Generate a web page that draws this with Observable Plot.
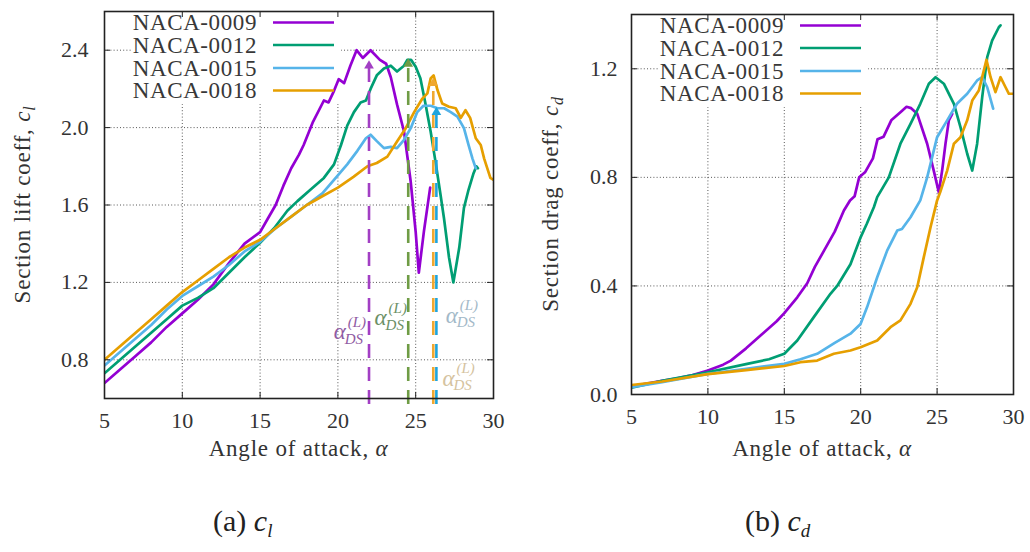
<!DOCTYPE html>
<html><head><meta charset="utf-8">
<script src="https://cdn.jsdelivr.net/npm/d3@7"></script>
<script src="https://cdn.jsdelivr.net/npm/@observablehq/plot@0.6"></script>
<style>
body{margin:0;background:#fff;}
#wrap{position:relative;width:1030px;height:552px;overflow:hidden;font-family:"Liberation Serif","Times New Roman","DejaVu Serif","Noto Serif",Times,serif;background:#fff;}
.panel{position:absolute;top:0;}
.cap{position:absolute;top:506px;font-size:30px;line-height:30px;color:#222;white-space:nowrap;}
.cap .s{font-size:19px;font-style:italic;position:relative;top:6px;}
</style></head><body>
<div id="wrap">
<div id="pl" class="panel" style="left:0"></div>
<div id="pr" class="panel" style="left:515px"></div>
<div class="cap" style="left:213px">(a) <i>c</i><span class="s">l</span></div>
<div class="cap" style="left:745px">(b) <i>c</i><span class="s">d</span></div>
</div>
<script>
// ---------- data ----------
const alphaTicks = [5, 10, 15, 20, 25, 30];
const alphaGrid = [10, 15, 20, 25];
const clTicks = [0.8, 1.2, 1.6, 2.0, 2.4];
const cdTicks = [0.0, 0.4, 0.8, 1.2];
const cdGrid = [0.4, 0.8, 1.2];
const alphaDomain = [5, 30];
const clDomain = [0.6, 2.6];
const cdDomain = [0, 1.4];

const seriesNames = ["NACA-0009", "NACA-0012", "NACA-0015", "NACA-0018"];
const seriesColors = ["#9400d3", "#009e73", "#56b4e9", "#e69f00"];

// lift coefficient
const clAlpha0009 = [5,6,7,8,9,10,11,12,13,14,15,15.5,16,16.5,17,17.5,17.8,18.4,19.1,19.4,19.75,20.05,20.4,20.8,21.2,21.6,22.1,22.7,23.1,23.4,23.8,24.25,24.68,25.0,25.2,25.53,25.93];
const cl0009 = [0.68,0.75,0.82,0.89,0.97,1.04,1.11,1.19,1.30,1.40,1.46,1.53,1.60,1.70,1.79,1.86,1.91,2.03,2.14,2.13,2.19,2.25,2.23,2.32,2.40,2.36,2.40,2.35,2.33,2.26,2.12,1.98,1.72,1.46,1.25,1.465,1.69];
const clAlpha0012 = [5,6,7,8,9,10,11,12,13,14,15,15.9,16.75,17.4,18.25,19.1,19.75,20.2,20.6,21.03,21.46,21.8,22.1,22.5,22.96,23.4,23.8,24.25,24.46,24.7,25.0,25.3,25.6,25.96,26.3,26.6,26.82,27.14,27.42,27.8,28.1,28.4,28.7,28.9,29.0];
const cl0012 = [0.73,0.80,0.87,0.94,1.01,1.08,1.12,1.17,1.25,1.33,1.405,1.48,1.57,1.62,1.68,1.74,1.81,1.91,2.01,2.08,2.13,2.14,2.20,2.27,2.305,2.32,2.29,2.32,2.35,2.35,2.315,2.255,2.135,1.98,1.81,1.65,1.53,1.33,1.20,1.38,1.585,1.68,1.76,1.80,1.79];
const clAlpha0015 = [5,6,7,8,9,10,11,12,13,14,15,16,17,18,19,19.75,20.6,21.25,21.8,22.1,22.5,22.96,23.4,23.8,24.25,24.7,25.1,25.5,25.96,26.4,26.83,27.25,27.68,28.1,28.4,28.65,28.86];
const cl0015 = [0.77,0.84,0.91,0.98,1.06,1.13,1.18,1.23,1.29,1.36,1.41,1.48,1.54,1.60,1.66,1.73,1.81,1.88,1.945,1.963,1.93,1.894,1.90,1.894,1.937,2.0,2.08,2.113,2.113,2.10,2.10,2.08,2.057,1.997,1.91,1.84,1.79];
const clAlpha0018 = [5,6,7,8,9,10,11,12,13,14,15,16,17,18,19,20,21,21.9,22.5,23.18,23.8,24.36,24.9,25.43,25.75,25.96,26.15,26.4,26.7,27.14,27.57,27.9,28.2,28.5,28.86,29.18,29.4,29.8,30];
const cl0018 = [0.80,0.87,0.94,1.01,1.08,1.15,1.21,1.27,1.33,1.38,1.42,1.48,1.54,1.60,1.645,1.69,1.745,1.80,1.817,1.85,1.928,1.997,2.08,2.15,2.177,2.254,2.27,2.194,2.125,2.108,2.10,2.05,2.09,2.05,1.945,1.91,1.84,1.74,1.73];

// drag coefficient
const cdAlpha0009 = [5,6,7,8,9,10,11,11.5,12.5,13.5,14.5,15,15.85,16.5,17,17.6,18.3,18.9,19.3,19.6,19.9,20.3,20.8,21.1,21.5,22.0,22.3,22.6,23.0,23.3,23.7,24.35,24.78,25.11,25.33,25.55,25.77,25.99];
const cd0009 = [0.03,0.04,0.05,0.06,0.072,0.088,0.11,0.125,0.17,0.22,0.27,0.30,0.358,0.41,0.47,0.53,0.60,0.678,0.715,0.73,0.80,0.82,0.87,0.94,0.95,1.01,1.025,1.04,1.06,1.055,1.034,0.924,0.825,0.745,0.825,0.924,1.01,1.034];
const cdAlpha0012 = [5,7,10,12.57,14,15,15.85,16.93,18.02,18.46,19.33,20.0,20.4,20.86,21.08,21.84,22.6,23.26,23.9,24.46,24.9,25.44,26.1,26.53,26.97,27.3,27.62,27.95,28.28,28.6,29.04,29.15];
const cd0012 = [0.025,0.05,0.082,0.113,0.13,0.15,0.199,0.285,0.371,0.40,0.48,0.58,0.629,0.69,0.727,0.80,0.924,0.997,1.071,1.145,1.169,1.145,1.071,0.985,0.887,0.825,0.924,1.095,1.243,1.304,1.353,1.36];
const cdAlpha0015 = [5,7,10,12.5,15,16.06,17.15,18.3,19.33,19.99,20.42,21.08,21.73,22.39,22.7,23.26,23.9,24.35,25.0,25.66,26.3,26.97,27.62,27.95,28.28,28.67];
const cd0015 = [0.027,0.045,0.076,0.095,0.113,0.13,0.15,0.19,0.224,0.26,0.322,0.432,0.53,0.604,0.61,0.653,0.715,0.80,0.948,1.01,1.071,1.108,1.157,1.169,1.132,1.053];
const cdAlpha0018 = [5,7,10,12.5,15,16.06,17.15,18.24,19.33,19.99,21.08,21.95,22.6,23.26,23.7,24.13,24.57,25.0,25.2,25.66,26.1,26.53,26.97,27.3,27.73,28.06,28.23,28.5,28.82,29.15,29.48,29.7,30];
const cd0018 = [0.035,0.048,0.075,0.09,0.105,0.119,0.125,0.15,0.162,0.174,0.199,0.248,0.273,0.334,0.395,0.506,0.616,0.715,0.745,0.825,0.924,0.948,1.01,1.083,1.12,1.194,1.233,1.169,1.114,1.169,1.132,1.108,1.108];

// dynamic-stall markers (lift panel)
const dsAlpha = [22.0, 24.52, 26.13, 26.33];
const dsTop = [2.34, 2.35, 2.25, 2.10];
const dsLineColors = ["#a23fc4", "#6f9c45", "#f0a830", "#1ea4dd"];
const dsLabelAlpha = [19.73, 22.36, 26.72, 26.93];
const dsLabelCl = [0.909, 0.981, 0.667, 0.993];
const dsLabelColors = ["#8f5ba3", "#6c9066", "#d5c3a0", "#a3b9c8"];

// ---------- helpers ----------
const W = 515, H = 470;
const FONT = "'Liberation Serif', 'Times New Roman', 'DejaVu Serif', 'Noto Serif', Times, serif";
const NS = "http://www.w3.org/2000/svg";
const rows = (a, v) => a.map((x, i) => ({alpha: x, v: v[i]}));

function buildPanel(cfg) {
  const m = cfg.m;
  const plotW = W - m.left - m.right, plotH = H - m.top - m.bottom;
  const gridStyle = {stroke: "#3a3a3a", strokeOpacity: 0.85, strokeDasharray: "1,2.2", strokeWidth: 1};
  const marks = [
    Plot.ruleX(alphaGrid, {x: d => d, ...gridStyle}),
    Plot.ruleY(cfg.yGrid, {y: d => d, ...gridStyle}),
    ...cfg.series.map((s, i) => Plot.line(rows(s[0], s[1]), {x: "alpha", y: "v", stroke: seriesColors[i], strokeWidth: 2.7, clip: true})),
    ...(cfg.extra || []),
    Plot.tickX(alphaTicks, {x: d => d, insetTop: plotH - 6, stroke: "#222"}),
    Plot.tickX(alphaTicks, {x: d => d, insetBottom: plotH - 6, stroke: "#222"}),
    Plot.tickY(cfg.yTicks, {y: d => d, insetRight: plotW - 6, stroke: "#222"}),
    Plot.tickY(cfg.yTicks, {y: d => d, insetLeft: plotW - 6, stroke: "#222"}),
    Plot.axisX({ticks: alphaTicks, tickSize: 0, tickPadding: 14, label: null, tickFormat: d => String(d)}),
    Plot.axisY({ticks: cfg.yTicks, tickSize: 0, tickPadding: cfg.yPad, label: null, tickFormat: d3.format(".1f")}),
    Plot.frame({stroke: "#222", strokeWidth: 1.6})
  ];
  const svg = Plot.plot({
    width: W, height: H,
    marginLeft: m.left, marginRight: m.right, marginTop: m.top, marginBottom: m.bottom,
    x: {domain: alphaDomain},
    y: {domain: cfg.yDomain},
    style: {fontFamily: FONT, fontSize: "22px", color: "#333", background: "white", overflow: "visible"},
    marks
  });
  decorate(svg, cfg, plotW, plotH);
  return svg;
}

function decorate(svg, cfg, plotW, plotH) {
  const m = cfg.m;
  const s = d3.select(svg);
  // legend background (hides the grid behind the key, below the curves)
  const groups = Array.from(svg.children).filter(e => e.tagName.toLowerCase() === "g");
  const bg = document.createElementNS(NS, "rect");
  bg.setAttribute("x", m.left + 27); bg.setAttribute("y", m.top + 1);
  bg.setAttribute("width", 210); bg.setAttribute("height", 92);
  bg.setAttribute("fill", "white");
  if (groups.length > 2) svg.insertBefore(bg, groups[2]); else svg.appendChild(bg);
  // legend
  const rowsY = [11.5, 34, 57, 79.5];
  const lg = s.append("g").attr("font-family", FONT).attr("font-size", 23)
    .attr("letter-spacing", "0.6px").attr("fill", "#383838");
  seriesNames.forEach((n, i) => {
    const yy = m.top + rowsY[i];
    lg.append("text").attr("x", m.left + 153).attr("y", yy + 7.5).attr("text-anchor", "end").text(n);
    lg.append("line").attr("x1", m.left + 169).attr("x2", m.left + 230)
      .attr("y1", yy).attr("y2", yy).attr("stroke", seriesColors[i]).attr("stroke-width", 2.7);
  });
  // x title
  const xt = s.append("text").attr("x", m.left + plotW / 2).attr("y", 456)
    .attr("text-anchor", "middle").attr("font-family", FONT).attr("font-size", 23)
    .attr("letter-spacing", "0.8px").attr("fill", "#333");
  xt.append("tspan").text("Angle of attack, ");
  xt.append("tspan").attr("font-style", "italic").text("α");
  // y title
  const yt = s.append("text")
    .attr("transform", `translate(${cfg.yTitleX},${m.top + plotH / 2}) rotate(-90)`)
    .attr("text-anchor", "middle").attr("font-family", FONT).attr("font-size", 23)
    .attr("letter-spacing", "0.8px").attr("fill", "#333");
  yt.append("tspan").text(cfg.yTitle);
  yt.append("tspan").attr("font-style", "italic").text("c");
  yt.append("tspan").attr("font-style", "italic").attr("font-size", 16).attr("dy", 5).text(cfg.ySub);
}

// ---------- lift panel extras ----------
const dsRows = dsAlpha.map((a, i) => ({a, top: dsTop[i], color: dsLineColors[i]}));
const labRows = dsLabelAlpha.map((a, i) => ({a, v: dsLabelCl[i], color: dsLabelColors[i]}));
const liftExtra = [];
dsRows.forEach(d => {
  liftExtra.push(Plot.ruleX([d], {x: "a", y1: () => clDomain[0], y2: "top", stroke: d.color, strokeWidth: 2.6, strokeDasharray: "14,9", dy: 6}));
  liftExtra.push(Plot.dot([d], {x: "a", y: "top", symbol: "triangle", r: 3.6, fill: d.color, stroke: "none", dy: 4}));
});
labRows.forEach(d => {
  liftExtra.push(Plot.text([d], {x: "a", y: "v", text: () => "α", fill: d.color, fontSize: 23, fontStyle: "italic", textAnchor: "start", dy: -7}));
  liftExtra.push(Plot.text([d], {x: "a", y: "v", text: () => "(L)", fill: d.color, fontSize: 15, fontStyle: "italic", textAnchor: "start", dx: 14, dy: -17}));
  liftExtra.push(Plot.text([d], {x: "a", y: "v", text: () => "DS", fill: d.color, fontSize: 15, fontStyle: "italic", textAnchor: "start", dx: 11, dy: 0}));
});

const left = buildPanel({
  m: {left: 104, right: 22, top: 11, bottom: 72},
  yDomain: clDomain, yTicks: clTicks, yGrid: clTicks, yPad: 16,
  series: [[clAlpha0009, cl0009], [clAlpha0012, cl0012], [clAlpha0015, cl0015], [clAlpha0018, cl0018]],
  extra: liftExtra,
  yTitle: "Section lift coeff, ", ySub: "l", yTitleX: 30
});
document.getElementById("pl").appendChild(left);

const right = buildPanel({
  m: {left: 116, right: 17, top: 14, bottom: 76},
  yDomain: cdDomain, yTicks: cdTicks, yGrid: cdGrid, yPad: 14,
  series: [[cdAlpha0009, cd0009], [cdAlpha0012, cd0012], [cdAlpha0015, cd0015], [cdAlpha0018, cd0018]],
  yTitle: "Section drag coeff, ", ySub: "d", yTitleX: 43
});
document.getElementById("pr").appendChild(right);
</script>
</body></html>
